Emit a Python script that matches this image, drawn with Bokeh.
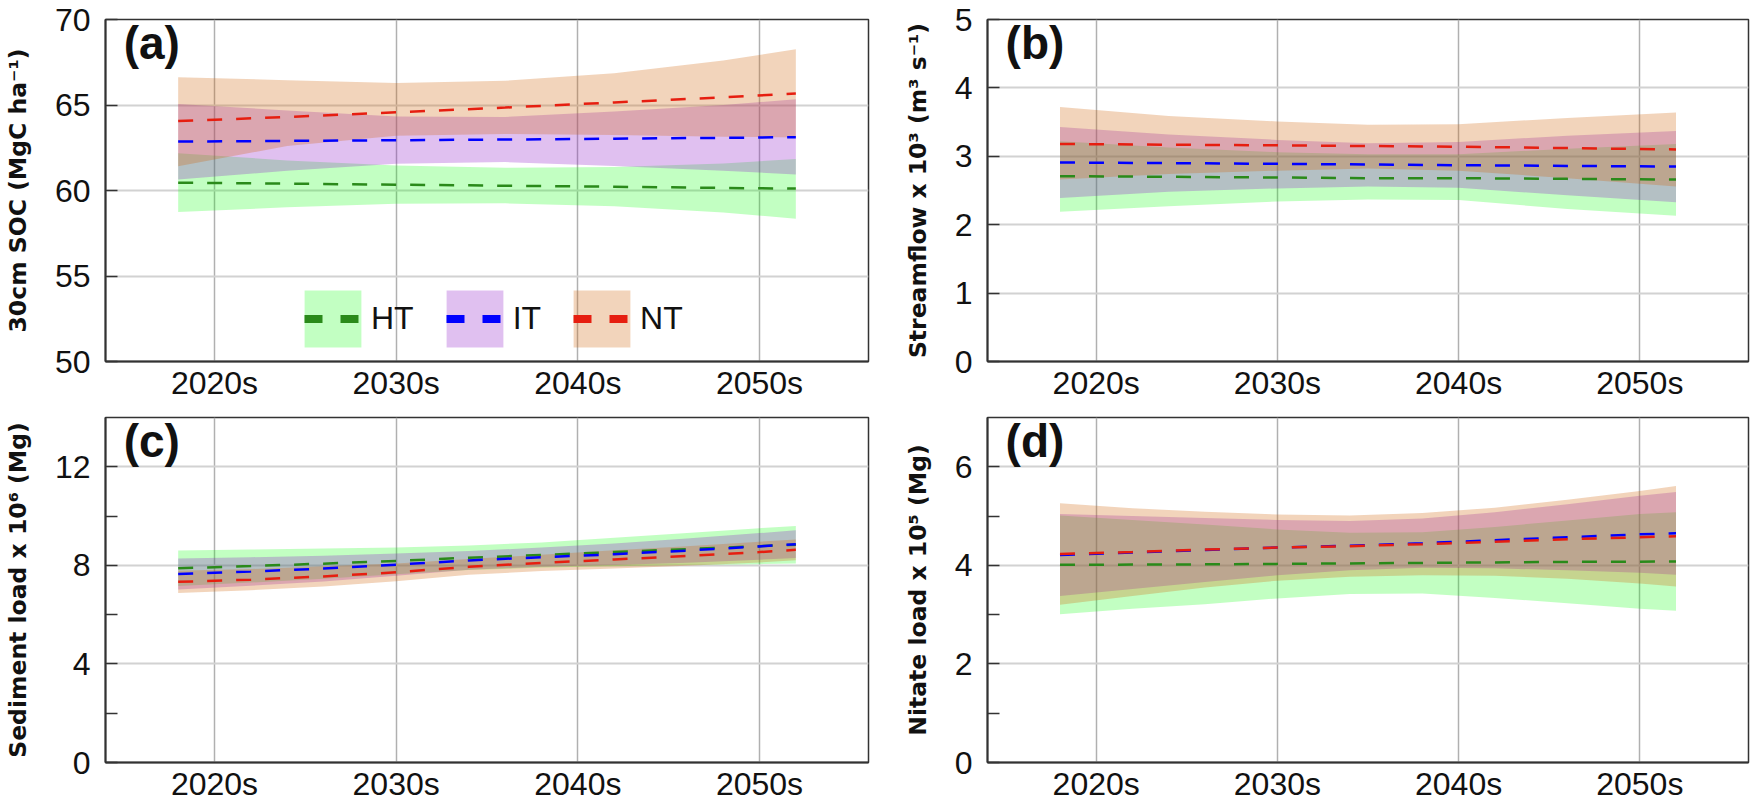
from bokeh.plotting import figure
from bokeh.layouts import column, row
from bokeh.models import Range1d, FixedTicker, Label, Legend, LegendItem
from bokeh.embed import file_html
from bokeh.resources import INLINE

# ---------------- data ----------------
DECADE_TICKS = [2020, 2030, 2040, 2050]
DECADE_LABELS = ["2020s", "2030s", "2040s", "2050s"]
GROUPS = ["HT", "IT", "NT"]

# (a) 30cm SOC (MgC ha-1)
SOC_YEARS = [2018, 2024, 2030, 2036, 2042, 2048, 2052]
SOC_HT_MEAN = [60.46, 60.40, 60.34, 60.28, 60.22, 60.15, 60.11]
SOC_HT_LOW = [58.74, 59.02, 59.22, 59.25, 59.08, 58.72, 58.35]
SOC_HT_HIGH = [62.18, 61.76, 61.46, 61.33, 61.38, 61.58, 61.84]
SOC_IT_MEAN = [62.86, 62.90, 62.94, 62.98, 63.03, 63.08, 63.12]
SOC_IT_LOW = [60.65, 61.15, 61.56, 61.66, 61.43, 61.15, 60.94]
SOC_IT_HIGH = [65.06, 64.68, 64.33, 64.30, 64.62, 65.00, 65.34]
SOC_NT_MEAN = [64.06, 64.30, 64.57, 64.85, 65.15, 65.45, 65.67]
SOC_NT_LOW = [61.42, 62.60, 63.20, 63.30, 63.25, 63.15, 63.10]
SOC_NT_HIGH = [66.63, 66.45, 66.28, 66.42, 66.85, 67.60, 68.26]

# (b) Streamflow x 10^3 (m3 s-1)
FLOW_YEARS = [2018, 2024, 2030, 2035, 2040, 2046, 2052]
FLOW_HT_MEAN = [2.71, 2.70, 2.69, 2.68, 2.68, 2.67, 2.66]
FLOW_HT_LOW = [2.19, 2.27, 2.34, 2.37, 2.36, 2.23, 2.13]
FLOW_HT_HIGH = [3.22, 3.13, 3.06, 3.03, 3.03, 3.11, 3.18]
FLOW_IT_MEAN = [2.91, 2.90, 2.89, 2.88, 2.87, 2.86, 2.85]
FLOW_IT_LOW = [2.39, 2.48, 2.53, 2.56, 2.54, 2.43, 2.33]
FLOW_IT_HIGH = [3.43, 3.32, 3.24, 3.19, 3.21, 3.30, 3.37]
FLOW_NT_MEAN = [3.18, 3.17, 3.16, 3.15, 3.14, 3.12, 3.10]
FLOW_NT_LOW = [2.66, 2.74, 2.79, 2.82, 2.79, 2.68, 2.56]
FLOW_NT_HIGH = [3.72, 3.59, 3.51, 3.46, 3.47, 3.56, 3.64]

# (c) Sediment load x 10^6 (Mg)
SED_YEARS = [2018, 2022, 2026, 2030, 2034, 2038, 2042, 2046, 2050, 2052]
SED_HT_MEAN = [7.88, 7.97, 8.07, 8.18, 8.31, 8.42, 8.54, 8.66, 8.78, 8.84]
SED_HT_LOW = [7.16, 7.30, 7.46, 7.64, 7.81, 7.91, 7.96, 8.01, 8.05, 8.08]
SED_HT_HIGH = [8.60, 8.64, 8.68, 8.72, 8.81, 8.93, 9.12, 9.31, 9.51, 9.60]
SED_IT_MEAN = [7.65, 7.75, 7.87, 8.03, 8.20, 8.33, 8.45, 8.60, 8.77, 8.86]
SED_IT_LOW = [7.02, 7.17, 7.35, 7.58, 7.82, 7.94, 8.01, 8.11, 8.23, 8.30]
SED_IT_HIGH = [8.28, 8.33, 8.39, 8.48, 8.58, 8.72, 8.89, 9.09, 9.31, 9.42]
SED_NT_MEAN = [7.33, 7.42, 7.55, 7.72, 7.94, 8.10, 8.24, 8.38, 8.54, 8.63]
SED_NT_LOW = [6.88, 6.99, 7.14, 7.36, 7.62, 7.77, 7.87, 7.98, 8.12, 8.21]
SED_NT_HIGH = [7.78, 7.85, 7.96, 8.08, 8.26, 8.43, 8.61, 8.78, 8.96, 9.05]

# (d) Nitate load x 10^5 (Mg)
NIT_YEARS = [2018, 2022, 2026, 2030, 2034, 2038, 2042, 2046, 2050, 2052]
NIT_HT_MEAN = [4.01, 4.015, 4.02, 4.03, 4.04, 4.05, 4.06, 4.07, 4.075, 4.08]
NIT_HT_LOW = [3.01, 3.12, 3.21, 3.33, 3.42, 3.43, 3.34, 3.23, 3.12, 3.08]
NIT_HT_HIGH = [5.01, 4.92, 4.83, 4.73, 4.66, 4.67, 4.78, 4.91, 5.04, 5.08]
NIT_IT_MEAN = [4.21, 4.26, 4.31, 4.36, 4.40, 4.45, 4.51, 4.57, 4.63, 4.65]
NIT_IT_LOW = [3.38, 3.52, 3.66, 3.80, 3.90, 3.95, 3.94, 3.90, 3.85, 3.81]
NIT_IT_HIGH = [5.04, 5.00, 4.96, 4.92, 4.90, 4.95, 5.08, 5.24, 5.41, 5.49]
NIT_NT_MEAN = [4.23, 4.27, 4.32, 4.36, 4.39, 4.43, 4.48, 4.53, 4.57, 4.59]
NIT_NT_LOW = [3.20, 3.38, 3.55, 3.69, 3.77, 3.80, 3.79, 3.73, 3.63, 3.57]
NIT_NT_HIGH = [5.26, 5.16, 5.09, 5.03, 5.01, 5.06, 5.17, 5.33, 5.51, 5.61]

# ---------------- styles ----------------
BAND_COLORS = {"HT": "#00ff00", "IT": "#911ec9", "NT": "#d1650a"}
BAND_ALPHA = {"HT": 0.24, "IT": 0.28, "NT": 0.28}
LINE_COLORS = {"HT": "#2a8a1a", "IT": "#0000ff", "NT": "#e61e10"}
TICK_FONT = "Liberation Sans"
TITLE_FONT = "DejaVu Sans"
AX_COLOR = "#333333"


def make_panel(letter, years, series, ylabel, yrange, yticks, hidden, ygrid,
               fw, fh, bl, br, bt, bb, legend=False):
    p = figure(frame_width=fw, frame_height=fh, output_backend="svg",
               toolbar_location=None,
               x_range=Range1d(2014, 2056), y_range=Range1d(*yrange),
               min_border_left=bl, min_border_right=br,
               min_border_top=bt, min_border_bottom=bb)
    p.background_fill_color = "white"
    p.border_fill_color = "white"
    p.outline_line_color = AX_COLOR
    p.outline_line_width = 1.5

    # x axis
    p.xaxis.ticker = FixedTicker(ticks=DECADE_TICKS)
    p.xaxis.major_label_overrides = dict(zip(DECADE_TICKS, DECADE_LABELS))
    p.xaxis.major_tick_in = 0
    p.xaxis.major_tick_out = 0
    p.xaxis.minor_tick_line_color = None
    p.xaxis.axis_line_color = AX_COLOR
    p.xaxis.axis_line_width = 2
    p.xaxis.major_label_text_font = TICK_FONT
    p.xaxis.major_label_text_font_size = "32px"
    p.xaxis.major_label_text_color = "#111111"
    p.xaxis.major_label_standoff = 3

    # y axis
    p.yaxis.ticker = FixedTicker(ticks=yticks)
    p.yaxis.major_label_overrides = {t: "" for t in hidden}
    p.yaxis.major_tick_in = 12
    p.yaxis.major_tick_out = 0
    p.yaxis.major_tick_line_color = AX_COLOR
    p.yaxis.major_tick_line_width = 1.5
    p.yaxis.minor_tick_line_color = None
    p.yaxis.axis_line_color = AX_COLOR
    p.yaxis.axis_line_width = 2
    p.yaxis.major_label_text_font = TICK_FONT
    p.yaxis.major_label_text_font_size = "32px"
    p.yaxis.major_label_text_color = "#111111"
    p.yaxis.major_label_standoff = 15
    p.yaxis.axis_label = ylabel
    p.yaxis.axis_label_text_font = TITLE_FONT
    p.yaxis.axis_label_text_font_style = "bold"
    p.yaxis.axis_label_text_font_size = "23.5px"
    p.yaxis.axis_label_text_color = "#111111"
    p.yaxis.axis_label_standoff = 20

    # grids
    p.xgrid.ticker = FixedTicker(ticks=DECADE_TICKS)
    p.xgrid.grid_line_color = "#b0b0b0"
    p.xgrid.grid_line_width = 1.5
    p.ygrid.ticker = FixedTicker(ticks=ygrid)
    p.ygrid.grid_line_color = "#d2d2d2"
    p.ygrid.grid_line_width = 2

    # bands then mean lines
    for g in GROUPS:
        mean, low, high = series[g]
        p.varea(x=years, y1=low, y2=high, fill_color=BAND_COLORS[g],
                fill_alpha=BAND_ALPHA[g])
    for g in GROUPS:
        mean, low, high = series[g]
        p.line(x=years, y=mean, line_color=LINE_COLORS[g], line_width=2.5,
               line_dash="15 14")

    y0, y1 = yrange
    p.add_layout(Label(x=2015.0, y=y1 + (y1 - y0) * 3.0 / fh, text=letter,
                       text_font="Liberation Sans", text_font_style="bold",
                       text_font_size="46px", text_baseline="top",
                       text_align="left", text_color="#111111"))

    if legend:
        items = []
        for g in GROUPS:
            # legend-only renderers: one point far outside the visible x range
            band = p.varea(x=[1900], y1=[y0], y2=[y0], fill_color=BAND_COLORS[g],
                           fill_alpha=BAND_ALPHA[g])
            ln = p.line(x=[1900], y=[y0], line_color=LINE_COLORS[g], line_width=8,
                        line_dash="18 18", line_dash_offset=29)
            items.append(LegendItem(label=g, renderers=[band, ln]))
        lg = Legend(items=items, orientation="horizontal", location=(192, 7),
                    glyph_width=71, glyph_height=71, label_standoff=3,
                    spacing=25, padding=0, margin=0,
                    border_line_alpha=0, background_fill_alpha=0,
                    label_text_font=TICK_FONT, label_text_font_size="32px",
                    label_text_color="#111111")
        p.add_layout(lg)
    return p


soc = {"HT": (SOC_HT_MEAN, SOC_HT_LOW, SOC_HT_HIGH),
       "IT": (SOC_IT_MEAN, SOC_IT_LOW, SOC_IT_HIGH),
       "NT": (SOC_NT_MEAN, SOC_NT_LOW, SOC_NT_HIGH)}
flow = {"HT": (FLOW_HT_MEAN, FLOW_HT_LOW, FLOW_HT_HIGH),
        "IT": (FLOW_IT_MEAN, FLOW_IT_LOW, FLOW_IT_HIGH),
        "NT": (FLOW_NT_MEAN, FLOW_NT_LOW, FLOW_NT_HIGH)}
sed = {"HT": (SED_HT_MEAN, SED_HT_LOW, SED_HT_HIGH),
       "IT": (SED_IT_MEAN, SED_IT_LOW, SED_IT_HIGH),
       "NT": (SED_NT_MEAN, SED_NT_LOW, SED_NT_HIGH)}
nit = {"HT": (NIT_HT_MEAN, NIT_HT_LOW, NIT_HT_HIGH),
       "IT": (NIT_IT_MEAN, NIT_IT_LOW, NIT_IT_HIGH),
       "NT": (NIT_NT_MEAN, NIT_NT_LOW, NIT_NT_HIGH)}

pa = make_panel("(a)", SOC_YEARS, soc, "30cm SOC (MgC ha\u207b\u00b9)", (50, 70),
                [50, 55, 60, 65, 70], [], [55, 60, 65],
                763, 342, 103, 10, 19, 50, legend=True)
pb = make_panel("(b)", FLOW_YEARS, flow, "Streamflow x 10\u00b3 (m\u00b3 s\u207b\u00b9)", (0, 5),
                [0, 1, 2, 3, 4, 5], [], [1, 2, 3, 4],
                761, 342, 109, 4, 19, 50)
pc = make_panel("(c)", SED_YEARS, sed, "Sediment load x 10\u2076 (Mg)", (0, 14),
                [0, 2, 4, 6, 8, 10, 12], [2, 6, 10], [4, 8, 12],
                763, 345, 103, 10, 6, 39)
pd_ = make_panel("(d)", NIT_YEARS, nit, "Nitate load x 10\u2075 (Mg)", (0, 7),
                 [0, 1, 2, 3, 4, 5, 6], [1, 3, 5], [2, 4, 6],
                 761, 345, 109, 4, 6, 39)

layout = column(row(pa, pb), row(pc, pd_))

open("out.html", "w").write(file_html(layout, INLINE))
